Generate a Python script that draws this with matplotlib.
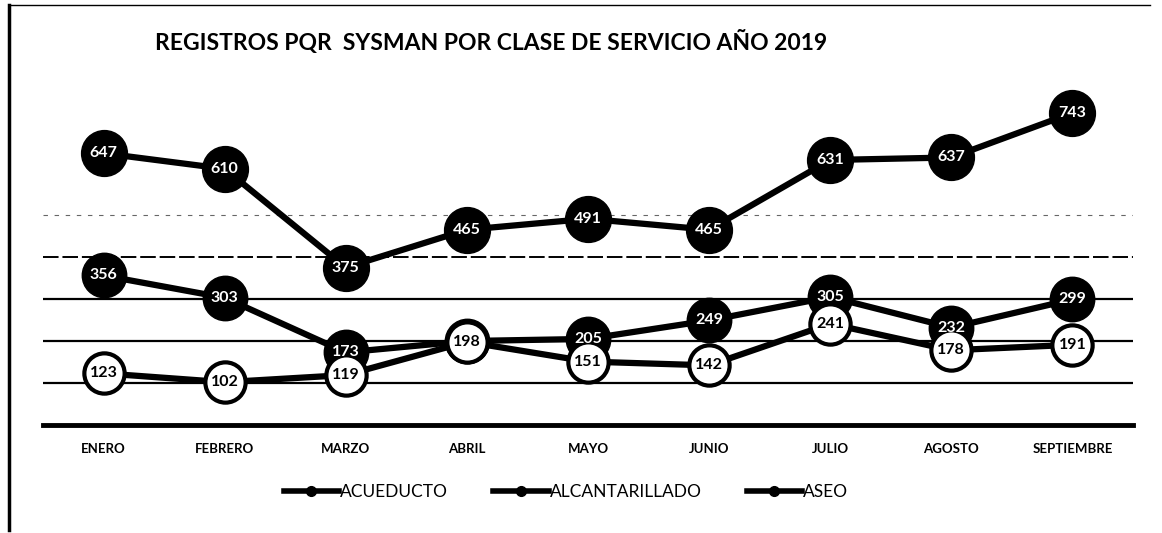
import matplotlib
matplotlib.use("Agg")
import matplotlib.pyplot as plt
from matplotlib.lines import Line2D

# data
meses = ['ENERO', 'FEBRERO', 'MARZO', 'ABRIL', 'MAYO', 'JUNIO',
         'JULIO', 'AGOSTO', 'SEPTIEMBRE']
acueducto = [123, 102, 119, 198, 151, 142, 241, 178, 191]
alcantarillado = [356, 303, 173, 200, 205, 249, 305, 232, 299]
aseo = [647, 610, 375, 465, 491, 465, 631, 637, 743]
series_names = ['ACUEDUCTO', 'ALCANTARILLADO', 'ASEO']

plt.rcParams['font.family'] = ['Lato', 'DejaVu Sans']

fig = plt.figure(figsize=(11.62, 5.33), dpi=100)
ax = fig.add_axes([0.037, 0.2026, 0.938, 0.6304])

x = list(range(len(meses)))

# gridlines
for v in [100, 200, 300]:
    ax.axhline(v, color='black', lw=1.6, zorder=1)
ax.axhline(400, color='black', lw=1.4, ls=(0, (8, 2)), zorder=1)
ax.axhline(500, color='black', lw=0.8, ls=(0, (4, 6)), alpha=0.6, zorder=1)
ax.axhline(0, color='black', lw=3.5, zorder=1, clip_on=False)

# series (white one on top, like the scan)
ax.plot(x, aseo, color='black', lw=4.5, marker='o', ms=33,
        mfc='black', mec='black', zorder=3)
ax.plot(x, alcantarillado, color='black', lw=4.5, marker='o', ms=32,
        mfc='black', mec='black', zorder=3)
ax.plot(x, acueducto, color='black', lw=4.5, marker='o', ms=29,
        mfc='white', mec='black', mew=3, zorder=4)

for xi, v in zip(x, aseo):
    ax.text(xi, v, str(v), color='white', fontsize=11.5, fontweight='bold',
            ha='center', va='center', zorder=6)
for xi, v in zip(x, alcantarillado):
    if meses[xi] == 'ABRIL':
        continue  # hidden under the white circle in the original
    ax.text(xi, v, str(v), color='white', fontsize=11.5, fontweight='bold',
            ha='center', va='center', zorder=6)
for xi, v in zip(x, acueducto):
    ax.text(xi, v, str(v), color='black', fontsize=11.5, fontweight='bold',
            ha='center', va='center', zorder=6)

ax.set_xlim(-0.5, len(meses) - 0.5)
ax.set_ylim(0, 800)
ax.set_xticks(x)
ax.set_xticklabels(meses, fontsize=9.5, fontweight='bold')
ax.tick_params(axis='x', length=0, pad=13)
ax.set_yticks([])
for s in ax.spines.values():
    s.set_visible(False)

fig.text(0.1335, 0.921, 'REGISTROS PQR  SYSMAN POR CLASE DE SERVICIO AÑO 2019',
         fontsize=16.5, fontweight='bold', ha='left', va='center')

handles = [Line2D([0], [0], color='black', lw=4, marker='o', ms=7,
                  mfc='black', mec='black') for _ in series_names]
fig.legend(handles, series_names, loc='center', bbox_to_anchor=(0.487, 0.077),
           ncol=3, frameon=False, fontsize=12.5, handlelength=3.2,
           handletextpad=0.05, columnspacing=2.6)

# outer border fragments from the scan
fig.add_artist(Line2D([0.008, 0.008], [0.005, 0.99], color='black', lw=2.5,
                      transform=fig.transFigure))
fig.add_artist(Line2D([0.008, 0.99], [0.99, 0.99], color='black', lw=1,
                      transform=fig.transFigure))

fig.savefig('out.png', dpi=100)
